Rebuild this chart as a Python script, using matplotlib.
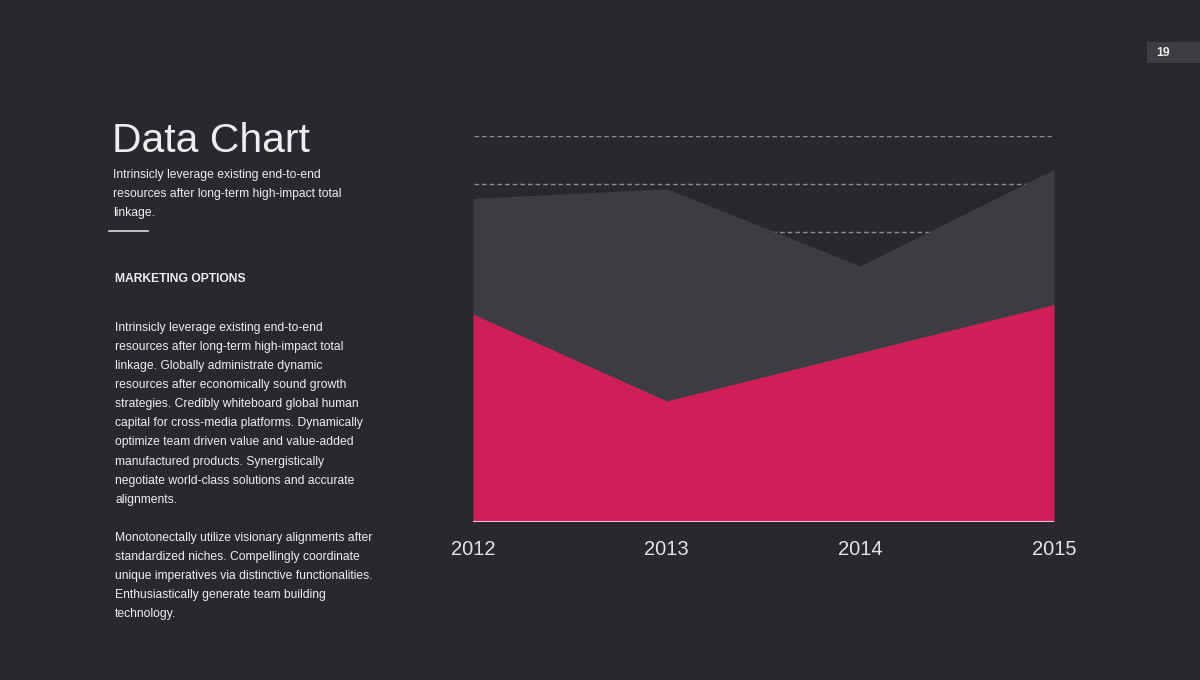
import matplotlib.pyplot as plt
from matplotlib.patches import Rectangle

# Datos del grafico
anios = [2012, 2013, 2014, 2015]
serie_rosa = [43, 25, 35, 45]
serie_gris = [67, 69, 53, 73]
ticks_y = [0, 10, 20, 30, 40, 50, 60, 70, 80]

titulo = "Data Chart"
subtitulo = ["Intrinsicly leverage existing end-to-end",
             "resources after long-term high-impact total",
             "linkage."]
encabezado = "MARKETING OPTIONS"
parrafo1 = ["Intrinsicly leverage existing end-to-end",
            "resources after long-term high-impact total",
            "linkage. Globally administrate dynamic",
            "resources after economically sound growth",
            "strategies. Credibly whiteboard global human",
            "capital for cross-media platforms. Dynamically",
            "optimize team driven value and value-added",
            "manufactured products. Synergistically",
            "negotiate world-class solutions and accurate",
            "alignments."]
parrafo2 = ["Monotonectally utilize visionary alignments after",
            "standardized niches. Compellingly coordinate",
            "unique imperatives via distinctive functionalities.",
            "Enthusiastically generate team building",
            "technology."]

FONDO = '#28292e'
GRIS = '#3c3d42'
ROSA = '#d01f58'
TEXTO = '#eeeeee'

plt.rcParams['font.family'] = ['Liberation Sans', 'DejaVu Sans']

W, H = 1200, 680
fig = plt.figure(figsize=(12, 6.8), dpi=100, facecolor=FONDO)

def px(x, y):
    # convierte pixeles de la imagen a fracciones de la figura
    return x / W, 1 - y / H

# Ejes del grafico de areas
x0, x1 = 473, 1054
y_top, y_base = 135.7, 521.5
ax = fig.add_axes([x0 / W, 1 - y_base / H, (x1 - x0) / W, (y_base - y_top) / H])
ax.set_facecolor(FONDO)
ax.set_xlim(anios[0], anios[-1])
ax.set_ylim(ticks_y[0], ticks_y[-1])

# lineas guia punteadas (quedan tapadas por las areas)
ax.hlines(ticks_y[1:], anios[0] + 0.003, anios[-1], color='#8d8e93', lw=1,
          linestyles=[(0, (3.3, 2.2))], zorder=1)

ax.fill_between(anios, 0, serie_gris, color=GRIS, lw=0, zorder=2)
ax.fill_between(anios, 0, serie_rosa, color=ROSA, lw=0, zorder=3)
ax.axhline(0, color='#f0c4d2', lw=1.5, zorder=4)

for s in ax.spines.values():
    s.set_visible(False)
ax.set_yticks([])
ax.set_xticks(anios)
ax.set_xticklabels([str(a) for a in anios])
ax.tick_params(axis='x', length=0, pad=13, labelsize=14.5, labelcolor='#e4e4e4')

# Textos del lado izquierdo
fig.text(*px(112, 141), titulo, fontsize=29.4, color=TEXTO, va='center', ha='left')
for i, linea in enumerate(subtitulo):
    fig.text(*px(113, 175 + i * 19.2), linea, fontsize=8.75, color=TEXTO, va='center', ha='left')
fig.add_artist(plt.Line2D([109 / W, 148 / W], [1 - 231 / H, 1 - 231 / H], color='#dddddd', lw=1.2))

fig.text(*px(115, 279), encabezado, fontsize=8.7, color=TEXTO, fontweight='bold', va='center', ha='left')
for i, linea in enumerate(parrafo1):
    fig.text(*px(115, 327.5 + i * 19.15), linea, fontsize=8.7, color=TEXTO, va='center', ha='left')
for i, linea in enumerate(parrafo2):
    fig.text(*px(115, 537.5 + i * 19.15), linea, fontsize=8.7, color=TEXTO, va='center', ha='left')

# Numero de pagina
fig.add_artist(Rectangle((1147 / W, 1 - 63 / H), 53 / W, 21 / H, transform=fig.transFigure,
                         facecolor=GRIS, edgecolor='none'))
fig.text(*px(1163, 52.5), "19", fontsize=8.8, color=TEXTO, fontweight='bold', va='center', ha='center')

fig.savefig('out.png', dpi=100, facecolor=FONDO)
